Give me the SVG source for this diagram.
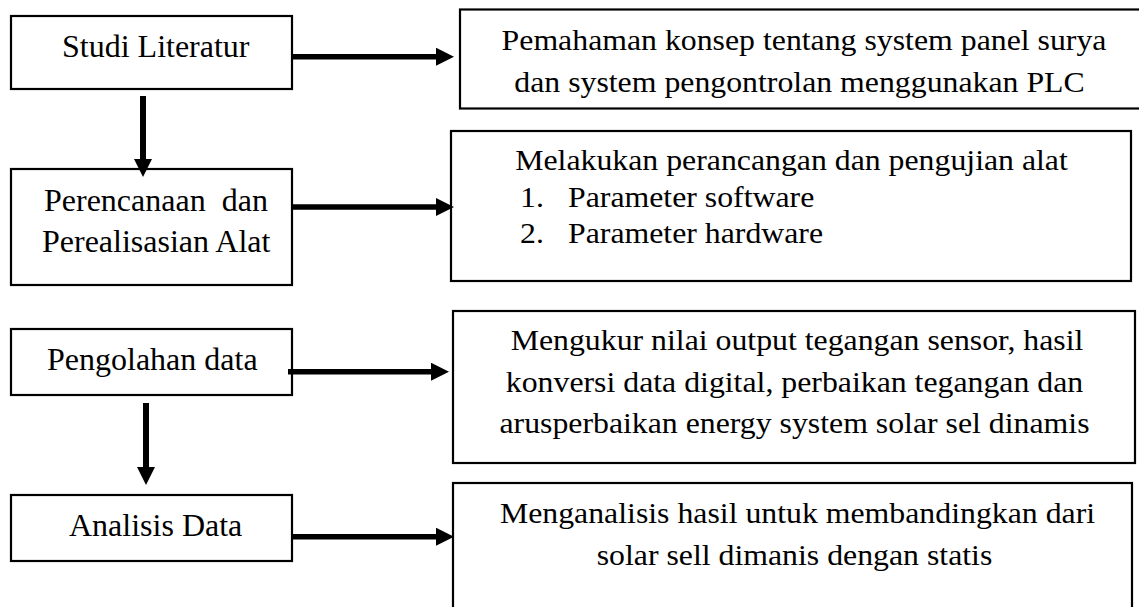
<svg xmlns="http://www.w3.org/2000/svg" width="1139" height="607" viewBox="0 0 1139 607">
<style>
.box{fill:#fff;stroke:#000;stroke-width:2.2}
.c{stroke:#000;stroke-width:5.4;fill:none;marker-end:url(#ah)}
</style>
<defs>
<marker id="ah" markerUnits="userSpaceOnUse" markerWidth="18" markerHeight="18" refX="5" refY="9" orient="auto">
<path d="M0,0 L18,9 L0,18 Z" fill="#000"/>
</marker>
</defs>
<rect width="1139" height="607" fill="#fff"/>
<g font-family="Liberation Serif, serif" font-size="32" fill="#000">
<g id="studi-literatur">
<rect class="box" x="11" y="16" width="281" height="73"/>
<text x="62" y="57">Studi Literatur</text>
</g>
<g id="perencanaan">
<rect class="box" x="11" y="169" width="281" height="116"/>
<text x="44" y="211" xml:space="preserve">Perencanaan  dan</text>
<text x="42" y="252">Perealisasian Alat</text>
</g>
<g id="pengolahan">
<rect class="box" x="11" y="329" width="281" height="66"/>
<text x="47" y="370">Pengolahan data</text>
</g>
<g id="analisis">
<rect class="box" x="11" y="495" width="281" height="66"/>
<text x="69" y="536">Analisis Data</text>
</g>
</g>
<g font-family="Liberation Serif, serif" font-size="30" fill="#000">
<g id="pemahaman">
<rect class="box" x="460" y="9.5" width="700" height="99"/>
<text transform="translate(804 50) scale(1.06 1)" text-anchor="middle">Pemahaman konsep tentang system panel surya</text>
<text transform="translate(799.5 92) scale(1.06 1)" text-anchor="middle">dan system pengontrolan menggunakan PLC</text>
</g>
<g id="melakukan">
<rect class="box" x="451" y="131" width="680" height="150"/>
<text transform="translate(791.5 170) scale(1.06 1)" text-anchor="middle">Melakukan perancangan dan pengujian alat</text>
<text transform="translate(520 207) scale(1.06 1)">1.</text>
<text transform="translate(568 207) scale(1.06 1)">Parameter software</text>
<text transform="translate(520 243) scale(1.06 1)">2.</text>
<text transform="translate(568 243) scale(1.06 1)">Parameter hardware</text>
</g>
<g id="mengukur">
<rect class="box" x="453" y="311" width="682" height="152"/>
<text transform="translate(797 350) scale(1.06 1)" text-anchor="middle">Mengukur nilai output tegangan sensor, hasil</text>
<text transform="translate(794.5 392) scale(1.06 1)" text-anchor="middle">konversi data digital, perbaikan tegangan dan</text>
<text transform="translate(794.5 433) scale(1.06 1)" text-anchor="middle">arusperbaikan energy system solar sel dinamis</text>
</g>
<g id="menganalisis">
<rect class="box" x="453" y="483" width="679" height="140"/>
<text transform="translate(797.5 523) scale(1.06 1)" text-anchor="middle">Menganalisis hasil untuk membandingkan dari</text>
<text transform="translate(794.5 565) scale(1.06 1)" text-anchor="middle">solar sell dimanis dengan statis</text>
</g>
</g>
<g id="connectors">
<line class="c" x1="293" y1="56.7" x2="441" y2="56.7"/>
<line class="c" x1="293" y1="207" x2="441" y2="207"/>
<line class="c" x1="288" y1="371.7" x2="436" y2="371.7"/>
<line class="c" x1="293" y1="536.7" x2="441" y2="536.7"/>
<line class="c" x1="143" y1="96" x2="143" y2="164" style="stroke-width:6"/>
<line class="c" x1="146" y1="403" x2="146" y2="472" style="stroke-width:6"/>
</g>
</svg>
